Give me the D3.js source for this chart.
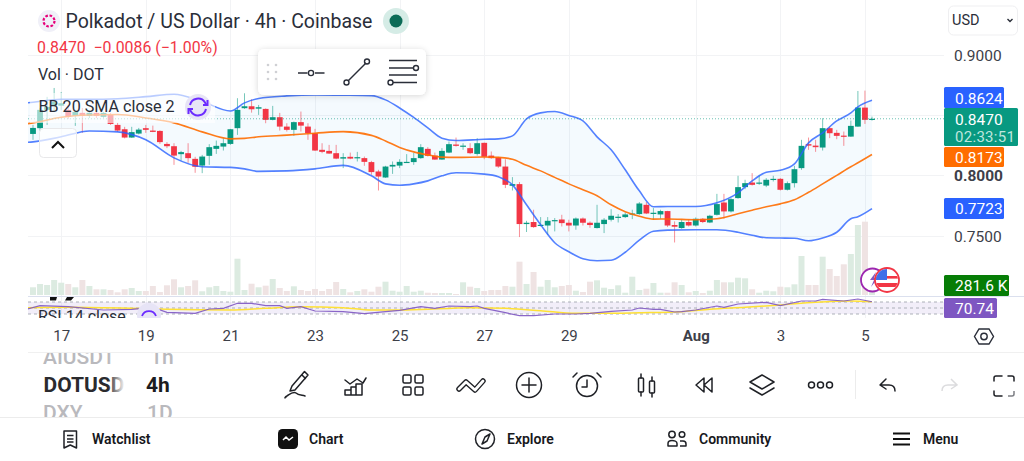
<!DOCTYPE html>
<html><head><meta charset="utf-8">
<script src="https://cdn.jsdelivr.net/npm/d3@7/dist/d3.min.js"></script>
<style>
html,body{margin:0;padding:0;background:#fff;overflow:hidden}
svg{display:block;font-family:Roboto,sans-serif}
</style></head><body><svg id="c" width="1024" height="461"></svg>
<script>
// ---------- DATA ----------
const opens=[
.8344,.8392,.8544,.8577,.8579,.8544,.8494,.8519,.8494,.8519,
.8486,.8502,.8419,.8383,.8314,.8347,.8392,.8372,.8369,.8261,
.8242,.8176,.8184,.8137,.8081,.8162,.8220,.8239,.8261,.8392,
.8558,.8574,.8554,.8552,.8461,.8483,.8405,.8378,.8442,.8405,
.8350,.8212,.8203,.8184,.8139,.8154,.8145,.8143,.8110,.8032,
.7982,.8073,.8081,.8106,.8110,.8143,.8220,.8164,.8131,.8189,
.8256,.8242,.8226,.8178,.8270,.8164,.8148,.8073,.7913,.7927,
.7595,.7612,.7583,.7583,.7620,.7633,.7606,.7583,.7641,.7606,
.7562,.7595,.7631,.7653,.7653,.7678,.7678,.7755,.7683,.7675,
.7703,.7587,.7562,.7612,.7583,.7639,.7608,.7672,.7774,.7700,
.7811,.7902,.7940,.7938,.7915,.7963,.7971,.7880,.7935,.8060,
.8259,.8247,.8231,.8392,.8353,.8330,.8322,.8405,.8563,.8466];
const highs=[
.8419,.8560,.8652,.8726,.8693,.8585,.8544,.8560,.8535,.8535,
.8527,.8519,.8436,.8403,.8403,.8394,.8419,.8413,.8374,.8276,
.8267,.8203,.8267,.8154,.8170,.8259,.8289,.8309,.8386,.8641,
.8682,.8632,.8585,.8556,.8577,.8519,.8433,.8447,.8530,.8433,
.8386,.8267,.8253,.8253,.8184,.8189,.8195,.8156,.8120,.8046,
.8079,.8115,.8134,.8176,.8187,.8259,.8234,.8189,.8226,.8281,
.8314,.8267,.8267,.8309,.8272,.8198,.8154,.8134,.7985,.7944,
.7622,.7714,.7653,.7653,.7645,.7672,.7631,.7650,.7650,.7617,
.7755,.7645,.7719,.7678,.7691,.7714,.7778,.7778,.7728,.7714,
.7705,.7617,.7631,.7631,.7650,.7645,.7672,.7846,.7846,.7811,
.7996,.7963,.8018,.8004,.7977,.7996,.7977,.7949,.8079,.8295,
.8314,.8295,.8475,.8405,.8378,.8364,.8455,.8701,.8704,.8488];
const lows=[
.8295,.8369,.8419,.8527,.8544,.8469,.8411,.8353,.8477,.8477,
.8477,.8419,.8361,.8307,.8311,.8340,.8353,.8359,.8261,.8226,
.8087,.8123,.8104,.8021,.8018,.8087,.8178,.8206,.8253,.8336,
.8552,.8521,.8502,.8433,.8457,.8372,.8364,.8328,.8364,.8295,
.8203,.8184,.8178,.8134,.8060,.8134,.8115,.8079,.8004,.7874,
.7979,.8012,.8060,.8104,.8087,.8137,.8156,.8129,.8129,.8184,
.8239,.8212,.8176,.8164,.8134,.8137,.8062,.7894,.7874,.7487,
.7529,.7564,.7575,.7506,.7534,.7575,.7534,.7548,.7583,.7564,
.7558,.7520,.7617,.7608,.7645,.7636,.7672,.7678,.7631,.7639,
.7570,.7442,.7556,.7575,.7575,.7603,.7603,.7666,.7639,.7691,
.7805,.7885,.7915,.7921,.7902,.7949,.7874,.7874,.7899,.8046,
.8212,.8195,.8206,.8309,.8300,.8245,.8320,.8403,.8427,.8455];
const closes=[
.8394,.8544,.8569,.8610,.8599,.8486,.8527,.8494,.8519,.8494,
.8519,.8427,.8372,.8314,.8359,.8380,.8378,.8361,.8276,.8242,
.8164,.8193,.8143,.8071,.8156,.8234,.8245,.8267,.8383,.8544,
.8574,.8549,.8566,.8461,.8483,.8405,.8378,.8442,.8413,.8350,
.8206,.8195,.8181,.8139,.8151,.8139,.8151,.8112,.8027,.7990,
.8073,.8087,.8112,.8112,.8143,.8234,.8162,.8131,.8203,.8259,
.8245,.8247,.8184,.8267,.8154,.8143,.8073,.7921,.7927,.7595,
.7606,.7570,.7589,.7622,.7628,.7603,.7583,.7641,.7606,.7587,
.7606,.7631,.7664,.7656,.7675,.7683,.7766,.7683,.7689,.7703,
.7583,.7573,.7612,.7583,.7639,.7612,.7664,.7761,.7700,.7802,
.7902,.7935,.7921,.7940,.7963,.7971,.7880,.7935,.8051,.8245,
.8247,.8234,.8392,.8350,.8328,.8322,.8411,.8563,.8461,.8470];
const volumesK=[
241,344,313,469,384,344,241,469,281,178,
178,156,84,178,219,125,125,281,94,303,
491,241,281,459,116,241,281,125,103,1134,
156,353,241,291,500,219,125,272,156,125,
188,125,188,406,188,84,125,178,103,259,
416,134,103,281,103,134,72,63,63,63,
31,397,259,219,125,156,156,281,259,1041,
344,719,259,469,241,281,313,134,94,416,
459,228,188,303,72,572,156,197,375,72,
72,397,313,84,125,63,134,469,397,397,
541,522,178,72,134,116,259,241,334,1219,
313,313,1197,813,594,959,1281,2188,2291,281.6];
const bandBars=[-1,0,4,8,12,16,20,24,28,30,32,36,40,44,48,50,52,54,56,58,60,64,66,68,70,72,74,76,78,80,82,84,86,88,90,94,97,100,102,104,106,108,110,112,114,116,117,119];
const bbUpper=[.8602,.8608,.8632,.8632,.8637,.8654,.8674,.8614,.8535,.8602,.8639,.8660,.8668,.8666,.8662,.8627,.8560,.8481,.8394,.8309,.8289,.8300,.8303,.8328,.8469,.8519,.8530,.8498,.8452,.8320,.8212,.8046,.7871,.7739,.7741,.7741,.7772,.7855,.7954,.8025,.8042,.8095,.8270,.8353,.8452,.8519,.8569,.8624];
const bbMiddle=[.8427,.8436,.8483,.8502,.8506,.8477,.8436,.8361,.8303,.8307,.8320,.8334,.8350,.8363,.8332,.8286,.8232,.8195,.8170,.8151,.8149,.8152,.8149,.8134,.8083,.8037,.7983,.7929,.7880,.7830,.7755,.7697,.7660,.7636,.7637,.7631,.7639,.7680,.7710,.7739,.7763,.7797,.7859,.7929,.8000,.8071,.8104,.8173];
const bbLower=[.8274,.8278,.8320,.8369,.8361,.8295,.8145,.8071,.8066,.8054,.8033,.8037,.8054,.8083,.7996,.7929,.7917,.7929,.7954,.7996,.8021,.8010,.7988,.7921,.7755,.7589,.7440,.7365,.7307,.7290,.7294,.7361,.7461,.7535,.7545,.7548,.7548,.7527,.7502,.7481,.7479,.7477,.7456,.7479,.7527,.7639,.7656,.7723];
const rsiBars=[-1,1,5,10,14,17,19,23,25,27,29,31,33,35,36,38,40,44,47,50,52,55,57,59,62,63,64,67,69,71,74,77,79,82,85,86,88,89,91,92,94,97,98,100,104,106,109,111,112,115,117,119];
const rsiValues=[45.7,57.7,54.3,43.3,45.7,52.3,35.7,32.3,46.7,49,65.7,65.7,57.7,57.7,49,54.3,40,37.7,31,37.7,42.3,54.3,49,56.7,54.3,56.7,49,34.3,24.3,24.3,30,30,32.3,39,43.3,50,45.7,45.7,36.7,37.7,43.3,56.7,52.3,63.3,69,57.7,73.3,73.3,79,73.3,80,70.74];
const rsiMaBars=[-1,5,14,19,28,33,38,44,48,53,62,67,72,77,81,86,92,96,101,106,111,116,119];
const rsiMaValues=[51,52.3,49,45.7,43.3,49,54.3,51,43.3,43.3,51,49,41,32.3,32.3,34.3,37.7,45.7,52.3,60,69,73.3,71];
const gridPrices=[.9,.85,.8,.75];
const priceLabels=[.9,.8,.75];
const timeBars=[4,16,28,40,52,64,76,94,106,118];
const timeLabels=["17","19","21","23","25","27","29","Aug","3","5"];
const rsiLevels=[70,50,30];
const lastPrice=.8470;

// ---------- SCALES ----------
const svg=d3.select("#c");
const L=28,R=944;
const x=d3.scaleLinear().domain([0,119]).range([33,872]);
const y=d3.scaleLinear().domain([.75,.9]).range([235.5,55]);
const yVol=d3.scaleLinear().domain([0,3000]).range([295,199]);
const yRsi=d3.scaleLinear().domain([30,70]).range([314,302]);
const GREEN="#089981",RED="#f23645",BLUE="#2962ff",ORANGE="#ff6d00",PURPLE="#7e57c2";
const defs=svg.append("defs");
defs.append("clipPath").attr("id","main").append("rect").attr("x",L).attr("y",0).attr("width",R-L).attr("height",296);
defs.append("clipPath").attr("id","rsi").append("rect").attr("x",L).attr("y",297).attr("width",R-L).attr("height",21);
defs.append("clipPath").attr("id","wheel").append("rect").attr("x",0).attr("y",353).attr("width",280).attr("height",64);
defs.append("clipPath").attr("id","flag").append("circle").attr("cx",887).attr("cy",280).attr("r",11);
const fade=defs.append("linearGradient").attr("id","fade");
fade.append("stop").attr("offset","0").attr("stop-color","#fff").attr("stop-opacity",0);
fade.append("stop").attr("offset","1").attr("stop-color","#fff").attr("stop-opacity",1);
const sh=defs.append("filter").attr("id","sh").attr("x","-20%").attr("y","-30%").attr("width","140%").attr("height","170%");
sh.append("feDropShadow").attr("dx",0).attr("dy",1).attr("stdDeviation",3).attr("flood-color","#000").attr("flood-opacity",.16);

// ---------- GRID ----------
const grid=svg.append("g").attr("stroke","#f2f3f5").attr("stroke-width",1);
grid.selectAll("line.v").data(timeBars).join("line").attr("class","v")
 .attr("x1",d=>Math.round(x(d))+.5).attr("x2",d=>Math.round(x(d))+.5).attr("y1",0).attr("y2",318);
grid.selectAll("line.h").data(gridPrices).join("line").attr("class","h")
 .attr("x1",L).attr("x2",R).attr("y1",d=>Math.round(y(d))+.5).attr("y2",d=>Math.round(y(d))+.5);

// ---------- MAIN PANE ----------
const main=svg.append("g").attr("clip-path","url(#main)");
const bandIdx=d3.range(bandBars.length);
main.append("path").attr("fill","#2196f3").attr("fill-opacity",.05)
 .attr("d",d3.area().x(i=>x(bandBars[i])).y0(i=>y(bbLower[i])).y1(i=>y(bbUpper[i])).curve(d3.curveMonotoneX)(bandIdx));
// volume
main.selectAll("rect.vol").data(volumesK).join("rect").attr("class","vol")
 .attr("x",(d,i)=>x(i)-3).attr("width",6).attr("y",d=>yVol(d)).attr("height",d=>295-yVol(d))
 .attr("fill",(d,i)=>closes[i]>=opens[i]?"#dcebe1":"#efe3e3");
// candles
const cand=main.append("g");
const up=i=>closes[i]>=opens[i];
cand.selectAll("line").data(d3.range(opens.length)).join("line")
 .attr("x1",i=>x(i)).attr("x2",i=>x(i)).attr("y1",i=>y(highs[i])).attr("y2",i=>y(lows[i]))
 .attr("stroke",i=>up(i)?GREEN:RED).attr("stroke-opacity",.55).attr("stroke-width",1);
cand.selectAll("rect").data(d3.range(opens.length)).join("rect")
 .attr("x",i=>x(i)-2.9).attr("width",5.8)
 .attr("y",i=>y(Math.max(opens[i],closes[i])))
 .attr("height",i=>Math.max(1.2,Math.abs(y(opens[i])-y(closes[i]))))
 .attr("fill",i=>up(i)?GREEN:RED);
// bands
const bandLine=arr=>d3.line().x(i=>x(bandBars[i])).y(i=>y(arr[i])).curve(d3.curveMonotoneX)(bandIdx);
main.append("path").attr("d",bandLine(bbUpper)).attr("fill","none").attr("stroke",BLUE).attr("stroke-opacity",.8).attr("stroke-width",1.6);
main.append("path").attr("d",bandLine(bbLower)).attr("fill","none").attr("stroke",BLUE).attr("stroke-opacity",.8).attr("stroke-width",1.6);
main.append("path").attr("d",bandLine(bbMiddle)).attr("fill","none").attr("stroke",ORANGE).attr("stroke-opacity",.9).attr("stroke-width",1.6);
// price line
svg.append("line").attr("x1",L).attr("x2",R).attr("y1",y(lastPrice)).attr("y2",y(lastPrice))
 .attr("stroke",GREEN).attr("stroke-opacity",.6).attr("stroke-dasharray","1 2");

// ---------- RSI PANE ----------
svg.append("line").attr("x1",L).attr("x2",1024).attr("y1",296.5).attr("y2",296.5).attr("stroke","#dbe0ee");
const rsiG=svg.append("g").attr("clip-path","url(#rsi)");
rsiG.append("rect").attr("x",L).attr("width",R-L).attr("y",yRsi(70)).attr("height",yRsi(30)-yRsi(70)).attr("fill","#7e57c2").attr("fill-opacity",.1);
rsiG.selectAll("line").data(rsiLevels).join("line")
 .attr("x1",L).attr("x2",R).attr("y1",d=>yRsi(d)).attr("y2",d=>yRsi(d))
 .attr("stroke","#9a9ea8").attr("stroke-opacity",.8).attr("stroke-dasharray","3 3");
rsiG.append("path").attr("fill","none").attr("stroke","#ffe135").attr("stroke-width",1.5)
 .attr("d",d3.line().x(i=>x(rsiMaBars[i])).y(i=>yRsi(rsiMaValues[i])).curve(d3.curveMonotoneX)(d3.range(rsiMaBars.length)));
rsiG.append("path").attr("fill","none").attr("stroke",PURPLE).attr("stroke-opacity",.9).attr("stroke-width",1.2)
 .attr("d",d3.line().x(i=>x(rsiBars[i])).y(i=>yRsi(rsiValues[i]))(d3.range(rsiBars.length)));
rsiG.append("text").attr("x",38).attr("y",322).attr("font-size",16).attr("fill","#2a2e39").text("RSI 14 close");
rsiG.append("circle").attr("cx",149).attr("cy",315).attr("r",12).attr("fill","#e7e4f6");
rsiG.append("path").attr("d","M142 316a7.5 7.5 0 0 1 14 0").attr("fill","none").attr("stroke","#6c2bff").attr("stroke-width",1.8);
svg.append("path").attr("d","M50 297h7l-1 3.5h-6zM67 297h7l-3 3.5h-6z").attr("fill","#111");

// ---------- AXES ----------
const priceAxis=svg.append("g").attr("transform","translate(944,0)")
 .call(d3.axisRight(y).tickValues(priceLabels).tickFormat(d3.format(".4f")).tickSize(0).tickPadding(10));
priceAxis.select(".domain").remove();
priceAxis.selectAll("text").attr("font-family","Roboto,sans-serif").attr("font-size",15.5).attr("fill","#3d4049").attr("dy","0.36em")
 .attr("font-weight",d=>d===.8?700:400);
const timeAxis=svg.append("g").attr("transform","translate(0,318)")
 .call(d3.axisBottom(x).tickValues(timeBars).tickFormat((d,i)=>timeLabels[i]).tickSize(0).tickPadding(12));
timeAxis.select(".domain").remove();
timeAxis.selectAll("text").attr("font-family","Roboto,sans-serif").attr("font-size",15).attr("fill","#3d4049")
 .attr("font-weight",(d,i)=>timeLabels[i]==="Aug"?700:400);

// ---------- OVERLAYS ----------
svg.append("rect").attr("x",30).attr("y",93).attr("width",185).attr("height",30).attr("fill","#fff").attr("fill-opacity",.6);
svg.append("rect").attr("x",39.5).attr("y",128.5).attr("width",37).attr("height",29).attr("rx",4)
 .attr("fill","#fff").attr("fill-opacity",.72).attr("stroke","#e8e8ea");
svg.append("path").attr("d","M52 148l6-6 6 6").attr("fill","none").attr("stroke","#111").attr("stroke-width",2);

// title row
svg.append("circle").attr("cx",49).attr("cy",21).attr("r",11).attr("fill","#f0f0f8");
svg.append("circle").attr("cx",49).attr("cy",21).attr("r",5.5).attr("fill","none").attr("stroke","#e6007a").attr("stroke-width",2.2).attr("stroke-dasharray","2.6 1.7");
const txt=(s,xx,yy,size,fill,w,anchor)=>svg.append("text").attr("x",xx).attr("y",yy).attr("font-size",size).attr("fill",fill)
 .attr("font-weight",w||400).attr("text-anchor",anchor||"start").text(s);
txt("Polkadot / US Dollar · 4h · Coinbase",65.5,28,19.5,"#2a2e39");
svg.append("circle").attr("cx",396).attr("cy",21).attr("r",13).attr("fill","#d5ece6");
svg.append("circle").attr("cx",396).attr("cy",21).attr("r",6.5).attr("fill","#0b6b56");
txt("0.8470  −0.0086 (−1.00%)",37,53,15.85,RED).attr("xml:space","preserve").style("white-space","pre");
txt("Vol · DOT",38,80,16,"#2a2e39");
txt("BB 20 SMA close 2",38.5,112,16.15,"#2a2e39");
svg.append("circle").attr("cx",198).attr("cy",107).attr("r",13).attr("fill","#e7e4f6");
const sync=svg.append("g").attr("fill","none").attr("stroke","#6c2bff").attr("stroke-width",2);
sync.append("path").attr("d","M190 105a8.2 8.2 0 0 1 15-2.5l1.5 2.5M206 109a8.2 8.2 0 0 1-15 2.5l-1.500-2.500");
sync.append("path").attr("d","M207.500 100v5h-4.500M188.500 114v-5h4.500");

// floating drawing card
svg.append("rect").attr("x",258).attr("y",49).attr("width",168).attr("height",46).attr("rx",6).attr("fill","#fff").attr("filter","url(#sh)");
[[268,65],[276,65],[268,72],[276,72],[268,79],[276,79]].forEach(p=>svg.append("circle").attr("cx",p[0]).attr("cy",p[1]).attr("r",1.3).attr("fill","#cfd0d4"));
const ic=svg.append("g").attr("fill","none").attr("stroke","#2a2e39").attr("stroke-width",1.4);
ic.append("path").attr("d","M298 73h9.500M315 73h9.500");
ic.append("circle").attr("cx",311).attr("cy",73).attr("r",2.6);
ic.append("path").attr("d","M348 81l18-18");
ic.append("circle").attr("cx",346.500).attr("cy",82.500).attr("r",2.5);
ic.append("circle").attr("cx",367).attr("cy",61.500).attr("r",2.5);
ic.append("path").attr("d","M389 60.500h28M389 68h24M389 75h28M393 82.500h24");
ic.append("circle").attr("cx",416).attr("cy",68).attr("r",2.500);
ic.append("circle").attr("cx",390.500).attr("cy",82.500).attr("r",2.500);

// currency box
svg.append("rect").attr("x",948.5).attr("y",6).attr("width",69).attr("height",29).attr("rx",5).attr("fill","#fff").attr("stroke","#efeff1");
txt("USD",952,24.500,14.500,"#2a2e39");
svg.append("path").attr("d","M1007.500 19l2.500 2.500 2.500-2.500").attr("fill","none").attr("stroke","#2a2e39").attr("stroke-width",1.4);

// price tags
const tag=(x0,y0,w,h,fill,s,ty)=>{
 svg.append("rect").attr("x",x0).attr("y",y0).attr("width",w).attr("height",h).attr("rx",1.5).attr("fill",fill);
 svg.append("text").attr("x",955).attr("y",ty).attr("font-size",15.5).attr("fill","#fff").text(s);
};
const f4=d3.format(".4f");
tag(944,87,60,21,BLUE,f4(bbUpper[47]),103.500);
tag(944,108,74,38,GREEN,f4(lastPrice),124.500);
txt("02:33:51",955,142,15,"#bfe6de").attr("letter-spacing",.3);
tag(944,147,60,20,ORANGE,f4(bbMiddle[47]),162.500);
tag(944,198,60,21,BLUE,f4(bbLower[47]),213.500);
tag(944,275,65,21,"#067d06",d3.format(".1f")(volumesK[119])+" K",291);
tag(944,298,53,20,PURPLE,d3.format(".2f")(rsiValues[51]),313.500);

// event badges
svg.append("circle").attr("cx",872.5).attr("cy",280).attr("r",11.500).attr("fill","#fff").attr("stroke","#9c27b0").attr("stroke-width",1.8);
svg.append("path").attr("d","M876 272l-6 8h4l-3 7 7-9h-4z").attr("fill","#7e57c2");
svg.append("circle").attr("cx",887).attr("cy",280).attr("r",12).attr("fill","#fff").attr("stroke",RED).attr("stroke-width",1.8);
const flag=svg.append("g").attr("clip-path","url(#flag)");
flag.append("rect").attr("x",876).attr("y",276).attr("width",22).attr("height",2.6).attr("fill",RED);
flag.append("rect").attr("x",876).attr("y",283).attr("width",22).attr("height",4).attr("fill",RED);
flag.append("rect").attr("x",876).attr("y",269).attr("width",11).attr("height",11).attr("fill","#3f6fe8");

// settings hex
svg.append("path").attr("d","M979 329h10l4.500 7.500-4.500 7.500h-10l-4.500-7.500z").attr("fill","none").attr("stroke","#2a2e39").attr("stroke-width",1.4);
svg.append("circle").attr("cx",984).attr("cy",336.500).attr("r",3.200).attr("fill","none").attr("stroke","#2a2e39").attr("stroke-width",1.4);

// separators
svg.append("line").attr("x1",L).attr("x2",1024).attr("y1",352.500).attr("y2",352.500).attr("stroke","#f0f0f0");
svg.append("line").attr("x1",0).attr("x2",1024).attr("y1",417.500).attr("y2",417.500).attr("stroke","#ececec");

// symbol wheel
const wheel=svg.append("g").attr("clip-path","url(#wheel)");
const wt=(s,xx,yy,fill,w)=>wheel.append("text").attr("x",xx).attr("y",yy).attr("font-size",21).attr("font-weight",w).attr("fill",fill).text(s);
wt("AIUSDT",43,364,"#b9b9bd",500);wt("1h",150,364,"#b9b9bd",500);
wt("DOTUSD",43.500,392,"#2a2a2e",700);wt("4h",146,392,"#1c1c20",700);
wt("DXY",43,420,"#b9b9bd",500);wt("1D",147,420,"#b9b9bd",500);
svg.append("rect").attr("x",108).attr("y",353).attr("width",17).attr("height",64).attr("fill","url(#fade)");
svg.append("rect").attr("x",125).attr("y",353).attr("width",20).attr("height",64).attr("fill","#fff");

// toolbar icons
const tb=svg.append("g").attr("fill","none").attr("stroke","#1f2126").attr("stroke-width",1.500).attr("stroke-linecap","round").attr("stroke-linejoin","round");
tb.append("path").attr("d","M292 386l-2 5 5-1 13-15-3.500-3.500zM302 375l3.500 3.500M286 397c-2 2-1 0 1-1 3-2 6-5 9-3 2 2 5 2 9 3"); // pencil
tb.append("path").attr("d","M345 380l5 4 7-5 6 4 3-5M345 395v-5h6v-3h5v-3h6v11zM351 390v5M356 387v8"); // indicators
tb.append("rect").attr("x",403).attr("y",375).attr("width",8).attr("height",8).attr("rx",1.500);
tb.append("rect").attr("x",415).attr("y",375).attr("width",8).attr("height",8).attr("rx",1.500);
tb.append("rect").attr("x",403).attr("y",387).attr("width",8).attr("height",8).attr("rx",1.500);
tb.append("rect").attr("x",415).attr("y",387).attr("width",8).attr("height",8).attr("rx",1.500);
const zig="M459 389l7-7 9 8 8-9";
svg.append("path").attr("d",zig).attr("fill","none").attr("stroke","#1f2126").attr("stroke-width",5.5).attr("stroke-linejoin","round").attr("stroke-linecap","round");
svg.append("path").attr("d",zig).attr("fill","none").attr("stroke","#fff").attr("stroke-width",2.8).attr("stroke-linejoin","round").attr("stroke-linecap","round");
tb.append("circle").attr("cx",529).attr("cy",385).attr("r",12.500);
tb.append("path").attr("d","M529 378v14M522 385h14");
tb.append("circle").attr("cx",587).attr("cy",386).attr("r",10.500);
tb.append("path").attr("d","M587 380v7h-5M575 375l-2 2M599 375l2 2M577 373l-3 3M597 373l3 3");
tb.append("path").attr("d","M641 374v4M641 392v4M652 377v4M652 393v4");
tb.append("rect").attr("x",638.500).attr("y",378).attr("width",5).attr("height",14).attr("rx",1);
tb.append("rect").attr("x",649.500).attr("y",381).attr("width",5).attr("height",12).attr("rx",1);
tb.append("path").attr("d","M704 378l-8 7 8 7zM712 378l-8 7 8 7z");
tb.append("path").attr("d","M762 375l12 7-12 7-12-7zM750 388l12 7 12-7");
[811.500,820.500,829.500].forEach(c=>tb.append("circle").attr("cx",c).attr("cy",385).attr("r",3));
svg.append("line").attr("x1",855.500).attr("x2",855.500).attr("y1",370).attr("y2",399).attr("stroke","#ececec");
tb.append("path").attr("d","M886 379l-6 6 6 4M880 385h9c4 0 6 2 6 6");
svg.append("path").attr("d","M951 379l6 6-6 4M957 385h-9c-4 0-6 2-6 6").attr("fill","none").attr("stroke","#dcdcde").attr("stroke-width",1.500);
tb.append("path").attr("d","M994 381v-3a2 2 0 0 1 2-2h6M1008 376h4a2 2 0 0 1 2 2v3M994 391v3a2 2 0 0 0 2 2h6");
svg.append("path").attr("d","M1014 391v3a2 2 0 0 1-2 2h-4").attr("fill","none").attr("stroke","#7d7f84").attr("stroke-width",1.500);

// bottom nav
const navTexts=[["Watchlist",92],["Chart",309],["Explore",507],["Community",699],["Menu",923]];
navTexts.forEach(n=>txt(n[0],n[1],444,14,"#17181c",600));
const nv=svg.append("g").attr("fill","none").attr("stroke","#1f2126").attr("stroke-width",1.500).attr("stroke-linejoin","round");
nv.append("path").attr("d","M64 431h12.500v17l-6.250-3-6.250 3zM67 435.500h6.500M67 439h6.500M67 442h6.500");
svg.append("rect").attr("x",278).attr("y",429).attr("width",20).attr("height",20).attr("rx",4.500).attr("fill","#111");
svg.append("path").attr("d","M283 440l3-3 3 3 4-3").attr("fill","none").attr("stroke","#fff").attr("stroke-width",1.500);
nv.append("circle").attr("cx",485).attr("cy",439).attr("r",9.500);
nv.append("path").attr("d","M490 434l-3 7-5 3 3-7z");
nv.append("circle").attr("cx",672).attr("cy",434.500).attr("r",3.200);
nv.append("circle").attr("cx",682).attr("cy",434.500).attr("r",2.800);
nv.append("path").attr("d","M668 446v-2.500c0-2 2-3 4-3s5 1 5 3v2.500zM680 441h3c2 0 3 1 3 3v2h-6");
svg.append("path").attr("d","M893 433.500h17M893 439h17M893 444.500h17").attr("stroke","#111").attr("stroke-width",2.200);
</script></body></html>
